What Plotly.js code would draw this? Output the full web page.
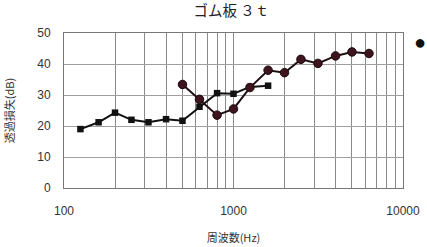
<!DOCTYPE html>
<html><head><meta charset="utf-8">
<script src="https://cdn.plot.ly/plotly-3.0.1.min.js"></script>
<style>html,body{margin:0;padding:0;background:#fff}#c{width:427px;height:247px}</style>
</head><body><div id="c"></div>
<script>
const freqA = [125,160,200,250,315,400,500,630,800,1000,1250,1600];
const valsA = [19,21.2,24.3,22,21.2,22.2,21.7,26.2,30.6,30.4,32.6,33];
const freqB = [500,630,800,1000,1250,1600,2000,2500,3150,4000,5000,6300];
const valsB = [33.4,28.6,23.5,25.5,32.4,38,37.2,41.5,40.2,42.6,43.9,43.4];
const yTicks = [0,10,20,30,40,50];
const xMajor = [100,1000,10000];
const xMajorText = ['100','1000','10000'];
const xAll = [];
for (const d of [100,1000]) for (let k=1;k<10;k++) xAll.push(d*k);
xAll.push(10000);
const xText = xAll.map(v => { const i = xMajor.indexOf(v); return i>=0 ? xMajorText[i] : ''; });

const traces = [
 {x:freqA,y:valsA,mode:'lines+markers',line:{color:'#111',width:2},
  marker:{symbol:'square',size:6.5,color:'#111'},hoverinfo:'skip'},
 {x:freqB,y:valsB,mode:'lines+markers',line:{color:'#1e0e12',width:2},
  marker:{symbol:'circle',size:8.5,color:'#3e141e',line:{color:'#1a0a0e',width:1}},hoverinfo:'skip'}
];
const layout = {
 width:427,height:247,margin:{l:64,r:24,t:33,b:59},
 paper_bgcolor:'#fff',plot_bgcolor:'#fff',showlegend:false,
 font:{family:'Liberation Sans, Arial, sans-serif',color:'#333'},
 title:{text:'ゴム板 ３ｔ',x:0.542,xanchor:'center',y:0.955,yanchor:'middle',
  font:{family:'Noto Sans CJK JP',size:14.5,color:'#222'}},
 xaxis:{type:'log',range:[2,4],tickmode:'array',tickvals:xAll,ticktext:xText,
  showgrid:true,gridcolor:'#8a8a8a',gridwidth:1,zeroline:false,
  showline:true,linecolor:'#777',mirror:true,ticks:'',ticklen:0,ticklabelstandoff:12,
  tickfont:{size:12,color:'#333'},
  title:{text:'周波数(Hz)',standoff:16,font:{family:'Noto Sans CJK JP',size:11,color:'#333'}}},
 yaxis:{range:[0,50],tickmode:'array',tickvals:yTicks,
  showgrid:true,gridcolor:'#a0a0a0',gridwidth:1,zeroline:false,
  showline:true,linecolor:'#777',mirror:true,ticks:'',ticklabelstandoff:10,
  tickfont:{size:12,color:'#333'},
  title:{text:'透過損失(dB)',standoff:20,font:{family:'Noto Sans CJK JP',size:11,color:'#333'}}},
 annotations:[{text:'●',xref:'paper',yref:'paper',x:1.05,y:0.945,xanchor:'center',yanchor:'middle',
  showarrow:false,font:{size:20,color:'#111'}}]
};
Plotly.newPlot('c',traces,layout,{staticPlot:true,displayModeBar:false});
</script></body></html>
